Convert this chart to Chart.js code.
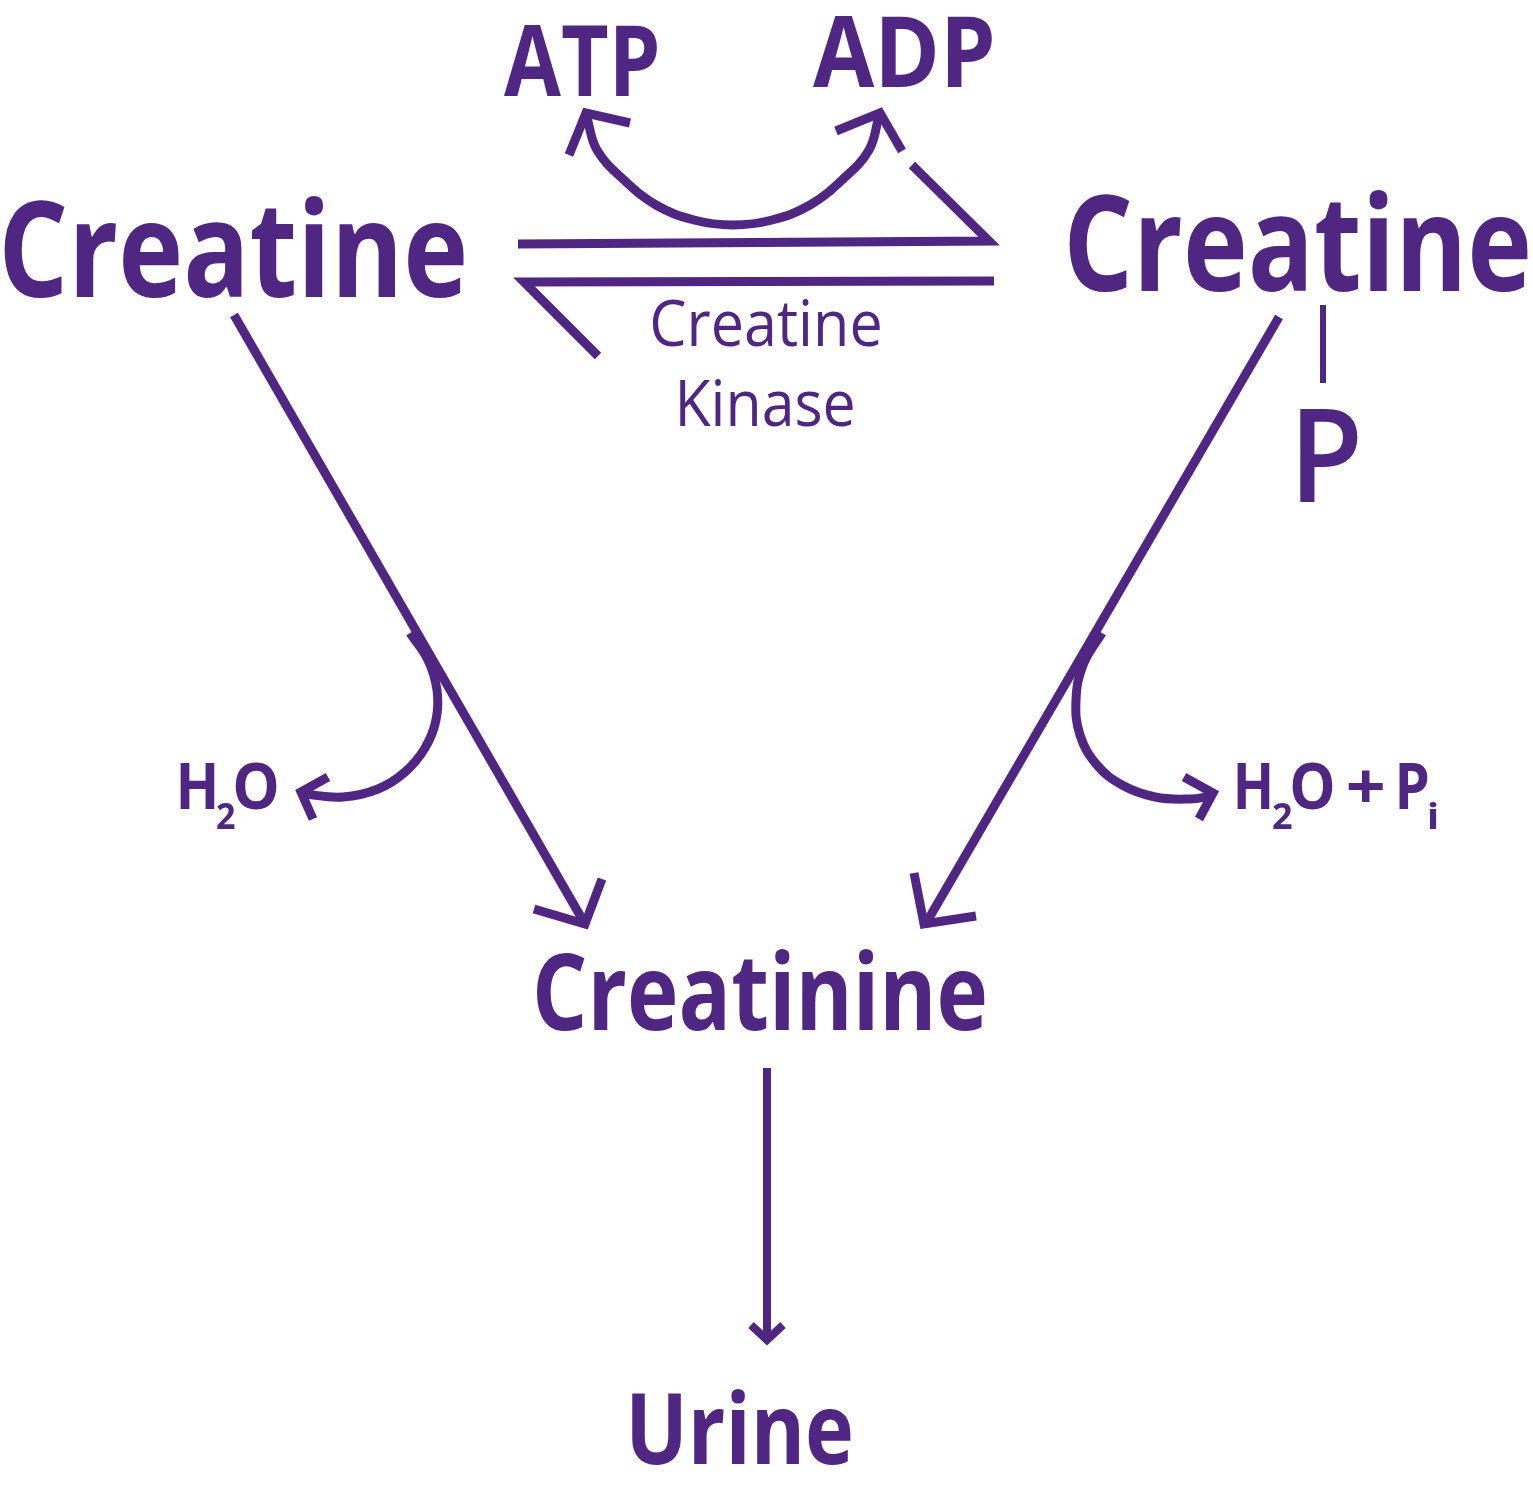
<!DOCTYPE html>
<html>
<head>
<meta charset="utf-8">
<script src="https://cdn.jsdelivr.net/npm/chart.js@4.4.1/dist/chart.umd.min.js"></script>
<style>
  html, body { margin: 0; padding: 0; background: #fff; }
  #wrap { width: 1533px; height: 1489px; }
</style>
</head>
<body>
<div id="wrap"><canvas id="scheme"></canvas></div>
<script>
// creatine / creatinine scheme — drawn as a line chart on a 1533 x 1489 grid (y down)

/* ===== PATHS ===== */
const fwdArrow    = [[518,244],[989,241],[912,165]];
const revArrow    = [[994,281],[524,282],[598,356]];
const atpArc      = [[587,118],[597,150],[624,180],[656,205],[694,220],[733,225],[772,220],[810,205],[842,180],[869,150],[879,116]];
const atpHead     = [[569,155],[586,113],[630,123]];
const adpHead     = [[836,131],[880,113],[902,151]];
const leftShaft   = [[234,315],[585,924]];
const leftHead    = [[534,909],[585,924],[602,879]];
const rightShaft  = [[1279,317],[925,925]];
const rightHead   = [[914,873],[924,924],[976,916]];
const h2oCurve    = [[410,633],[428,660],[437,690],[436,720],[425,748],[405,772],[378,789],[343,797],[303,794]];
const h2oHead     = [[328,777],[301,792],[313,819]];
const h2oPiCurve  = [[1102,633],[1083,665],[1076,700],[1080,735],[1097,765],[1122,785],[1155,797],[1190,799],[1212,796]];
const h2oPiHead   = [[1184,777],[1213,793],[1199,819]];
const bondP       = [[1323,305],[1323,383]];
const urineShaft  = [[767,1068],[767,1338]];
const urineHead   = [[751,1325],[767,1340],[783,1325]];

/* ===== LABELS ===== */
const labelText  = ['Creatine','Creatine','ATP','ADP','Creatine','Kinase','P','Creatinine','Urine','H','2','O','H','2','O','+','P','i'];
const labelLeft  = [4,1069,504,813,652,680,1300,537,632,180,217,235,1237,1273,1292,1348,1399,1429];
const labelRight = [464,1528,657,992,880,853,1358,985,851,215,235,277,1270,1292,1333,1383,1428,1437];
const labelBase  = [297,291,96,87,346,426,502,1030,1464,809,829,809,809,829,809,809,809,829];
const labelKind  = ['big','big','mid','mid','small','small','p','mid2','mid','chem','sub','chem','chem','sub','chem','chem','chem','sub'];

const PURPLE = '#502683';
const FAMILY = '"Open Sans", "Noto Sans", sans-serif';
const fonts = {
  big:   '700 132px ' + FAMILY,
  mid:   '700 99px '  + FAMILY,
  mid2:  '700 106px ' + FAMILY,
  small: '400 64px '  + FAMILY,
  p:     '600 131px ' + FAMILY,
  chem:  '700 64px '  + FAMILY,
  sub:   '700 36px '  + FAMILY
};

const paths = [
  { pts: fwdArrow,   w: 9 },
  { pts: revArrow,   w: 9 },
  { pts: atpArc,     w: 9, smooth: true },
  { pts: atpHead,    w: 9 },
  { pts: adpHead,    w: 9 },
  { pts: leftShaft,  w: 9 },
  { pts: leftHead,   w: 9 },
  { pts: rightShaft, w: 9 },
  { pts: rightHead,  w: 9 },
  { pts: h2oCurve,   w: 9, smooth: true },
  { pts: h2oHead,    w: 9 },
  { pts: h2oPiCurve, w: 9, smooth: true },
  { pts: h2oPiHead,  w: 9 },
  { pts: bondP,      w: 6 },
  { pts: urineShaft, w: 8 },
  { pts: urineHead,  w: 8 }
];

const datasets = paths.map(p => ({
  data: p.pts.map(([x, y]) => ({ x, y })),
  showLine: true,
  borderColor: PURPLE,
  borderWidth: p.w,
  borderCapStyle: 'butt',
  borderJoinStyle: p.smooth ? 'round' : 'miter',
  tension: p.smooth ? 0.4 : 0,
  pointRadius: 0,
  pointHoverRadius: 0,
  fill: false
}));

// text squeezed/stretched so its ink fits between left and right
const labelPlugin = {
  id: 'labels',
  afterDatasetsDraw(chart) {
    const ctx = chart.ctx, sx = chart.scales.x, sy = chart.scales.y;
    ctx.save();
    ctx.fillStyle = PURPLE;
    ctx.textBaseline = 'alphabetic';
    ctx.textAlign = 'left';
    labelText.forEach((t, i) => {
      ctx.font = fonts[labelKind[i]];
      const m = ctx.measureText(t);
      const inkL = m.actualBoundingBoxLeft, inkW = m.actualBoundingBoxLeft + m.actualBoundingBoxRight;
      const x0 = sx.getPixelForValue(labelLeft[i]), x1 = sx.getPixelForValue(labelRight[i]);
      const s = (x1 - x0) / inkW;
      ctx.save();
      ctx.translate(x0 + inkL * s, sy.getPixelForValue(labelBase[i]));
      ctx.scale(s, 1);
      ctx.fillText(t, 0, 0);
      ctx.restore();
    });
    ctx.restore();
  }
};

new Chart(document.getElementById('scheme'), {
  type: 'scatter',
  data: { datasets },
  options: {
    responsive: true,
    maintainAspectRatio: false,
    animation: false,
    events: [],
    layout: { padding: 0 },
    plugins: { legend: { display: false }, tooltip: { enabled: false } },
    scales: {
      x: { type: 'linear', min: 0, max: 1533, display: false },
      y: { type: 'linear', min: 0, max: 1489, reverse: true, display: false }
    }
  },
  plugins: [labelPlugin]
});
</script>
</body>
</html>
